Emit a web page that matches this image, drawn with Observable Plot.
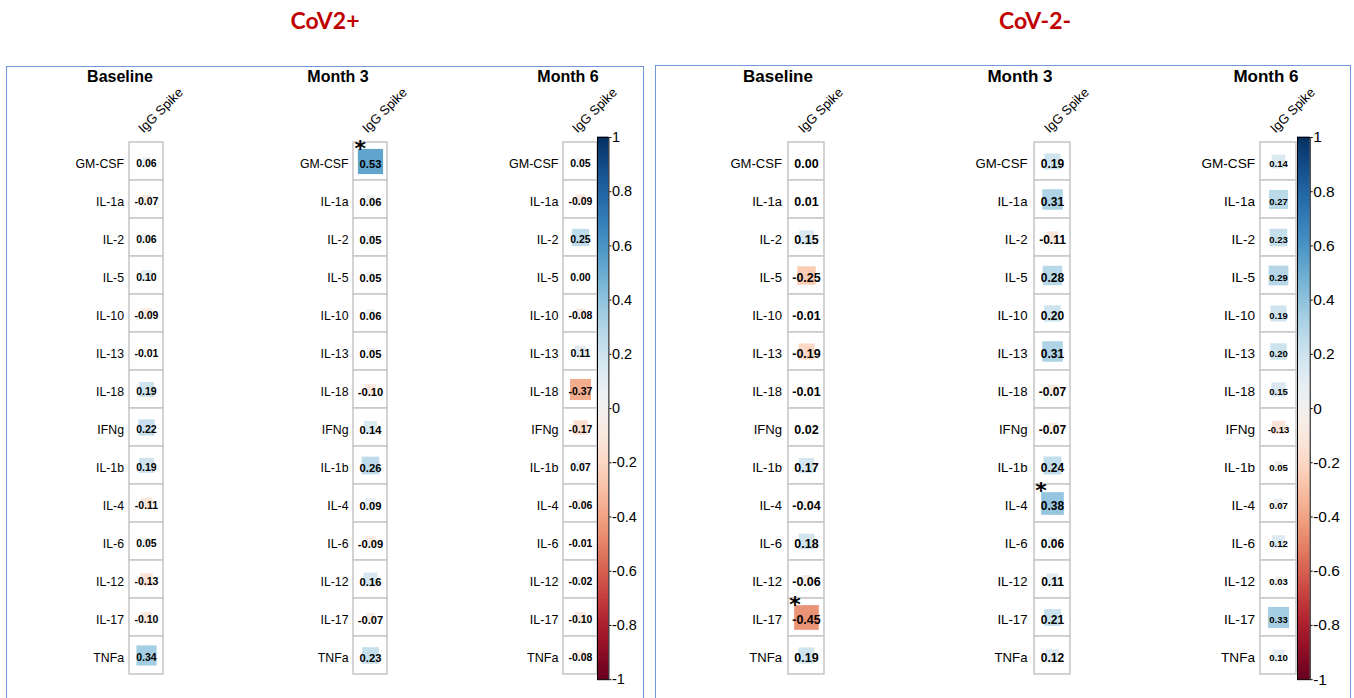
<!DOCTYPE html>
<html>
<head>
<meta charset="utf-8">
<script src="https://cdn.jsdelivr.net/npm/d3@7"></script>
<script src="https://cdn.jsdelivr.net/npm/@observablehq/plot@0.6"></script>
<style>
  html, body { margin: 0; padding: 0; background: #fff; }
  #page { position: relative; width: 1354px; height: 698px; overflow: hidden; font-family: "Liberation Sans", Arial, sans-serif; }
  .group-title { position: absolute; top: 6px; transform: translateX(-50%); font-family: Lato, "Open Sans", sans-serif; font-weight: 700; font-size: 23px; color: #c00000; white-space: nowrap; }
  .box { position: absolute; border: 1.3px solid #6f98dc; box-sizing: border-box; }
  .panel-title { position: absolute; top: 66px; transform: translateX(-50%); font-weight: 700; color: #000; white-space: nowrap; line-height: 22px; }
  .abs { position: absolute; }
  .abs svg { max-width: none !important; }
</style>
</head>
<body>
<div id="page"></div>
<script>
// Correlation of IgG Spike with plasma cytokines, per group and timepoint
const cytokines = ["GM-CSF", "IL-1a", "IL-2", "IL-5", "IL-10", "IL-13", "IL-18", "IFNg", "IL-1b", "IL-4", "IL-6", "IL-12", "IL-17", "TNFa"];
const markers = ["IgG Spike"];
const groups = ["CoV2+", "CoV-2-"];
const timepoints = ["Baseline", "Month 3", "Month 6"];

// CoV2+ correlations
const posBaseline = [0.06, -0.07, 0.06, 0.10, -0.09, -0.01, 0.19, 0.22, 0.19, -0.11, 0.05, -0.13, -0.10, 0.34];
const posMonth3   = [0.53, 0.06, 0.05, 0.05, 0.06, 0.05, -0.10, 0.14, 0.26, 0.09, -0.09, 0.16, -0.07, 0.23];
const posMonth6   = [0.05, -0.09, 0.25, 0.00, -0.08, 0.11, -0.37, -0.17, 0.07, -0.06, -0.01, -0.02, -0.10, -0.08];
// CoV-2- correlations
const negBaseline = [0.00, 0.01, 0.15, -0.25, -0.01, -0.19, -0.01, 0.02, 0.17, -0.04, 0.18, -0.06, -0.45, 0.19];
const negMonth3   = [0.19, 0.31, -0.11, 0.28, 0.20, 0.31, -0.07, -0.07, 0.24, 0.38, 0.06, 0.11, 0.21, 0.12];
const negMonth6   = [0.14, 0.27, 0.23, 0.29, 0.19, 0.20, 0.15, -0.13, 0.05, 0.07, 0.12, 0.03, 0.33, 0.10];

// significant correlations (marked with *)
const posBaselineSig = [];
const posMonth3Sig = ["GM-CSF"];
const posMonth6Sig = [];
const negBaselineSig = ["IL-17"];
const negMonth3Sig = ["IL-4"];
const negMonth6Sig = [];

// colour bar ticks
const colorTicks = [1, 0.8, 0.6, 0.4, 0.2, 0, -0.2, -0.4, -0.6, -0.8, -1];

// ---- layout ----
const gridTop = 136.7;
const gridH = 542.3;
const pitch = gridH / cytokines.length;

const panels = [
  {values: posBaseline, sig: posBaselineSig, title: timepoints[0], cellLeft: 128.7, cellW: 34.6, labelSize: 12.3, labelPad: 5.5, valueSize: 10.5, titleX: 120, titleSize: 16},
  {values: posMonth3, sig: posMonth3Sig, title: timepoints[1], cellLeft: 352.7, cellW: 34.6, labelSize: 12.3, labelPad: 5, valueSize: 11.2, titleX: 338, titleSize: 16},
  {values: posMonth6, sig: posMonth6Sig, title: timepoints[2], cellLeft: 562.5, cellW: 34.6, labelSize: 12.6, labelPad: 5, valueSize: 10.5, titleX: 568, titleSize: 16,
   bar: {left: 597.3, w: 11.4, size: 14.5}},
  {values: negBaseline, sig: negBaselineSig, title: timepoints[0], cellLeft: 788.3, cellW: 36.8, labelSize: 13.1, labelPad: 6.5, valueSize: 12.5, titleX: 778, titleSize: 17},
  {values: negMonth3, sig: negMonth3Sig, title: timepoints[1], cellLeft: 1033.5, cellW: 36.8, labelSize: 13.2, labelPad: 7, valueSize: 12, titleX: 1020, titleSize: 17},
  {values: negMonth6, sig: negMonth6Sig, title: timepoints[2], cellLeft: 1260, cellW: 36.8, labelSize: 13.6, labelPad: 5.5, valueSize: 9.5, titleX: 1266, titleSize: 17,
   bar: {left: 1297.3, w: 12.7, size: 15.5}}
];

const page = document.getElementById("page");

function place(el, left, top, w, h) {
  const wrap = document.createElement("div");
  wrap.className = "abs";
  wrap.style.left = left + "px";
  wrap.style.top = top + "px";
  wrap.style.width = w + "px";
  wrap.style.height = h + "px";
  wrap.appendChild(el);
  page.appendChild(wrap);
}

// group frames and titles
[[groups[0], 6, 66, 638, 325], [groups[1], 655, 65, 696, 1035]].forEach(([name, x, y, w, cx]) => {
  const box = document.createElement("div");
  box.className = "box";
  Object.assign(box.style, {left: x + "px", top: y + "px", width: w + "px", height: "660px"});
  page.appendChild(box);
  const t = document.createElement("div");
  t.className = "group-title";
  t.style.left = cx + "px";
  t.textContent = name;
  page.appendChild(t);
});

const colorScale = {type: "linear", domain: [-1, 1], scheme: "rdbu"};
const font = "'Liberation Sans', Arial, sans-serif";

panels.forEach(p => {
  const rows = cytokines.map((c, i) => ({cytokine: c, value: p.values[i]}));
  const mL = 110, mR = 60, mT = 70, mB = 10;
  const col = () => markers[0];
  const W = mL + p.cellW + mR, H = mT + gridH + mB;

  const chart = Plot.plot({
    width: W,
    height: H,
    marginLeft: mL, marginRight: mR, marginTop: mT, marginBottom: mB,
    style: {background: "transparent", overflow: "visible", fontFamily: font, fontSize: p.labelSize + "px", color: "#000", maxWidth: "none"},
    x: {type: "band", domain: markers, padding: 0, axis: null},
    y: {type: "band", domain: cytokines, padding: 0, axis: null},
    color: colorScale,
    r: {type: "sqrt", domain: [0, 1], range: [0, p.cellW / Math.sqrt(Math.PI)]},
    marks: [
      Plot.cell(rows, {x: col, y: "cytokine", fill: "white", stroke: "#c9c9c9", strokeWidth: 1.6}),
      Plot.dot(rows, {x: col, y: "cytokine", r: d => Math.abs(d.value), fill: "value", symbol: "square", stroke: null}),
      Plot.text(rows, {x: col, y: "cytokine", text: d => d.value.toFixed(2), fontWeight: "bold", fontSize: p.valueSize, dy: 2.5, fill: "#000"}),
      Plot.text(p.sig, {x: col, y: d => d, text: () => "*", fontFamily: "'DejaVu Sans', sans-serif", fontWeight: "bold", fontSize: 22,
        dx: -p.cellW / 2 + 7, dy: -pitch / 2 + 7, fill: "#000"}),
      Plot.text(cytokines, {y: d => d, frameAnchor: "left", textAnchor: "end", dx: -p.labelPad, dy: 2.5, fill: "#000"}),
      Plot.text(markers, {x: d => d, frameAnchor: "top", rotate: -45, textAnchor: "start", lineAnchor: "bottom", dx: -3, dy: -4, fontSize: 13, fill: "#000"})
    ]
  });
  place(chart, p.cellLeft - mL, gridTop - mT, W, H);

  const t = document.createElement("div");
  t.className = "panel-title";
  t.style.left = p.titleX + "px";
  t.style.fontSize = p.titleSize + "px";
  t.textContent = p.title;
  page.appendChild(t);

  if (p.bar) {
    // colour bar: the colour scale sampled along its domain
    const step = 0.01;
    const ramp = d3.range(-1, 1, step);
    const bMT = 10, bMB = 12, bMR = 40;
    const bW = p.bar.w + bMR, bH = bMT + gridH + bMB;
    const bar = Plot.plot({
      width: bW,
      height: bH,
      marginLeft: 0, marginRight: bMR, marginTop: bMT, marginBottom: bMB,
      style: {background: "transparent", overflow: "visible", fontFamily: font, fontSize: p.bar.size + "px", color: "#000", maxWidth: "none"},
      x: {domain: [0, 1], axis: null},
      y: {domain: [-1, 1], axis: "right", ticks: colorTicks, tickFormat: d => String(d), tickSize: 2, tickPadding: 1, label: null},
      color: colorScale,
      marks: [
        Plot.rect(ramp, {x1: 0, x2: 1, y1: d => d, y2: d => d + step, fill: d => d + step / 2, insetTop: -0.4, insetBottom: -0.4}),
        Plot.frame({stroke: "#000", strokeWidth: 1})
      ]
    });
    place(bar, p.bar.left, gridTop - bMT, bW, bH);
  }
});
</script>
</body>
</html>
